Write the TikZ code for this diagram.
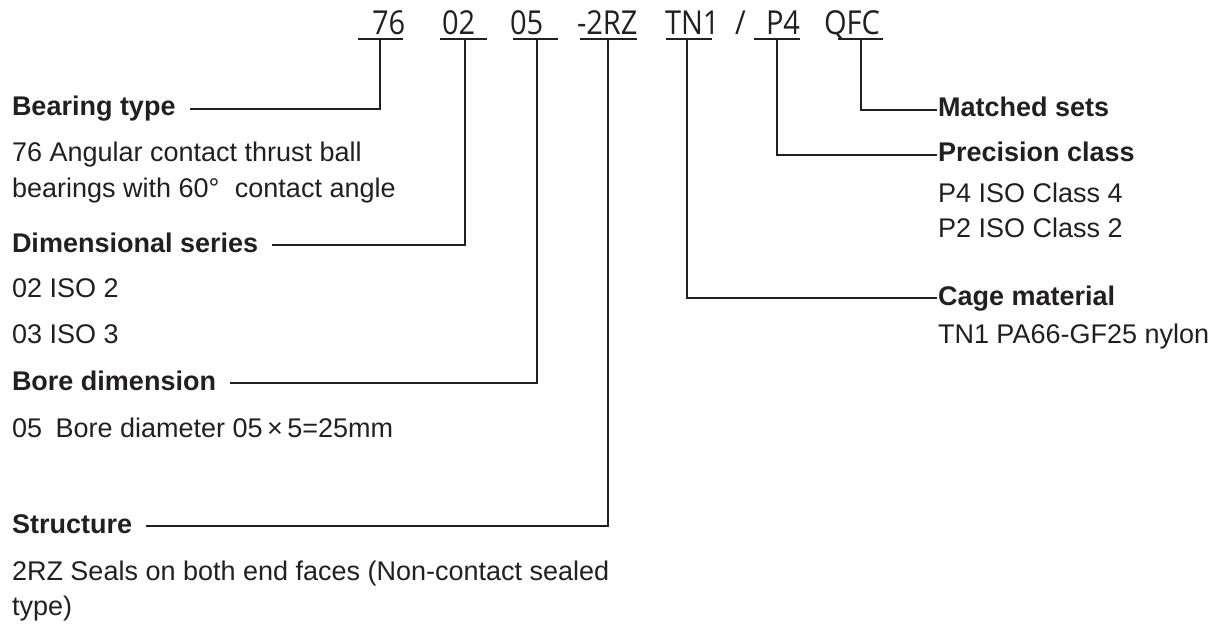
\documentclass[tikz,border=0pt]{standalone}
\usepackage{fontspec}
\setmainfont{Liberation Sans}
\newfontfamily\codefont[FakeStretch=0.88]{Open Sans}
\definecolor{ink}{HTML}{231F20}

\begin{document}
\begin{tikzpicture}[
  x=0.5pt, y=-0.5pt,
  every node/.style={inner sep=0pt, outer sep=0pt, text=ink},
  code/.style={anchor=base west, font=\codefont\fontsize{16.5}{18}\selectfont},
  head/.style={anchor=base west, font=\fontsize{13.5}{16}\selectfont\bfseries},
  note/.style={anchor=base west, font=\fontsize{13.5}{16}\selectfont},
  wire/.style={draw=ink, line width=0.65pt}
]
\useasboundingbox (0,0) rectangle (1215,626);

% Designation
\node[code] (c76) at (372,35) {76};
\node[code] (c02) at (442,35) {02};
\node[code] (c05) at (510,35) {05};
\node[code] (c2rz) at (577,35) {-2RZ};
\node[code] (ctn) at (665,35) {TN1};
\node[code] (cslash) at (735,35) {/};
\node[code] (cp4) at (766,35) {P4};
\node[code] (cqfc) at (824,35) {QFC};

% Underlines and tee points
\draw[wire] (358,39) -- (403,39);
\draw[wire] (440,39) -- (487,39);
\draw[wire] (513,39) -- (558,39);
\draw[wire] (580,39) -- (637,39);
\draw[wire] (666,39) -- (712,39);
\draw[wire] (754,39) -- (800,39);
\draw[wire] (838,39) -- (883,39);
\coordinate (t76) at (380,39);
\coordinate (t02) at (465,39);
\coordinate (t05) at (537,39);
\coordinate (t2rz) at (608,39);
\coordinate (ttn) at (687,39);
\coordinate (tp4) at (777,39);
\coordinate (tqfc) at (861,39);

% Left labels
\node[head] (btype) at (12,116) {Bearing type};
\node[note] (btype1) at (12,162) {76 Angular contact thrust ball};
\node[note] (btype2) at (12,198) {bearings with 60°\hspace{0.3em} contact angle};
\node[head] (dser) at (12,252) {Dimensional series};
\node[note] (dser1) at (12,297) {02 ISO 2};
\node[note] (dser2) at (12,343) {03 ISO 3};
\node[head] (bdim) at (12,390) {Bore dimension};
\node[note] (bdim1) at (12,437) {05\hspace{0.5em}Bore diameter 05\,×\,5=25mm};
\node[head] (struc) at (12,533) {Structure};
\node[note] (struc1) at (12,580) {2RZ Seals on both end faces (Non-contact sealed};
\node[note] (struc2) at (12,615) {type)};

% Right labels
\node[head] (mset) at (938,117) {Matched sets};
\node[head] (pcls) at (938,162) {Precision class};
\node[note] (pcls1) at (938,202) {P4 ISO Class 4};
\node[note] (pcls2) at (938,237) {P2 ISO Class 2};
\node[head] (cage) at (938,305) {Cage material};
\node[note] (cage1) at (938,343) {TN1 PA66-GF25 nylon};

% Leaders
\draw[wire] (t76) |- ([xshift=7pt,yshift=3.5pt]btype.base east);
\draw[wire] (t02) |- ([xshift=7pt,yshift=3.5pt]dser.base east);
\draw[wire] (t05) |- ([xshift=7pt,yshift=3.5pt]bdim.base east);
\draw[wire] (t2rz) |- ([xshift=7pt,yshift=3.5pt]struc.base east);
\draw[wire] (ttn) |- ([xshift=-0.5pt,yshift=3.5pt]cage.base west);
\draw[wire] (tp4) |- ([xshift=-0.5pt,yshift=3.5pt]pcls.base west);
\draw[wire] (tqfc) |- ([xshift=-0.5pt,yshift=3.5pt]mset.base west);

\end{tikzpicture}
\end{document}
